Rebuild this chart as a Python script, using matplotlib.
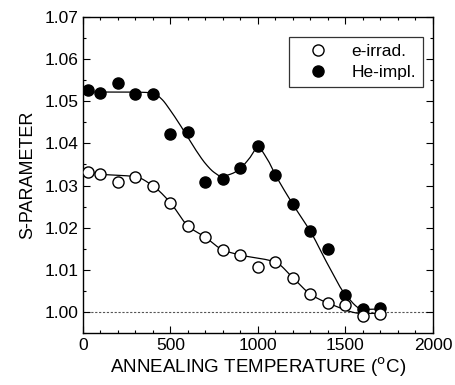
import numpy as np
import matplotlib
matplotlib.use("Agg")
import matplotlib.pyplot as plt
from matplotlib.ticker import MultipleLocator

plt.rcParams['font.family'] = ['Liberation Sans', 'DejaVu Sans']

# Measured points
temp = [30, 100, 200, 300, 400, 500, 600, 700, 800, 900, 1000, 1100, 1200, 1300, 1400, 1500, 1600, 1700]
s_e_irrad = [1.0332, 1.0327, 1.0308, 1.0321, 1.0299, 1.0259, 1.0204, 1.0177, 1.0147, 1.0135,
             1.0107, 1.0118, 1.0081, 1.0042, 1.0021, 1.0017, 0.9991, 0.9996]
s_he_impl = [1.0526, 1.0520, 1.0543, 1.0517, 1.0517, 1.0423, 1.0428, 1.0309, 1.0316, 1.0341,
             1.0393, 1.0325, 1.0255, 1.0191, 1.0149, 1.0041, 1.0007, 1.0009]

# Guide-to-the-eye curve nodes
he_guide_x = [30, 250, 400, 450, 500, 550, 600, 650, 700, 750, 790, 850, 900, 950, 1000, 1050,
              1100, 1200, 1300, 1400, 1500, 1600, 1700]
he_guide_y = [1.0522, 1.0522, 1.0520, 1.0505, 1.0478, 1.0447, 1.0414, 1.0381, 1.0352, 1.0331,
              1.0322, 1.0328, 1.0341, 1.0364, 1.0390, 1.0365, 1.0325, 1.0255, 1.0191, 1.0112,
              1.0041, 1.0006, 1.0007]
e_guide_x = [30, 100, 300, 400, 500, 600, 700, 800, 900, 1100, 1200, 1300, 1400, 1600, 1700]
e_guide_y = [1.0332, 1.0327, 1.0321, 1.0299, 1.0259, 1.0204, 1.0177, 1.0147, 1.0135, 1.0118,
             1.0081, 1.0042, 1.0021, 0.9996, 0.9997]

x_ticks = [0, 500, 1000, 1500, 2000]
y_ticks = [1.00, 1.01, 1.02, 1.03, 1.04, 1.05, 1.06, 1.07]


def pchip(x, y, xs):
    x = np.asarray(x, float); y = np.asarray(y, float)
    h = np.diff(x); d = np.diff(y) / h
    n = len(x); m = np.zeros(n)
    for k in range(1, n - 1):
        if d[k - 1] * d[k] > 0:
            w1 = 2 * h[k] + h[k - 1]; w2 = h[k] + 2 * h[k - 1]
            m[k] = (w1 + w2) / (w1 / d[k - 1] + w2 / d[k])
    m[0] = d[0]; m[-1] = d[-1]
    idx = np.clip(np.searchsorted(x, xs) - 1, 0, n - 2)
    t = (xs - x[idx]) / h[idx]
    h00 = 2 * t**3 - 3 * t**2 + 1; h10 = t**3 - 2 * t**2 + t
    h01 = -2 * t**3 + 3 * t**2; h11 = t**3 - t**2
    return h00 * y[idx] + h10 * h[idx] * m[idx] + h01 * y[idx + 1] + h11 * h[idx] * m[idx + 1]


fig = plt.figure(figsize=(4.55, 3.85), dpi=100)
ax = fig.add_axes([0.1824, 0.1351, 0.7692, 0.8207])

ax.axhline(1.0, color='#555555', lw=0.8, ls=(0, (2, 1.5)), zorder=1)

xs = np.linspace(he_guide_x[0], he_guide_x[-1], 600)
ax.plot(xs, pchip(he_guide_x, he_guide_y, xs), color='black', lw=0.9, zorder=2)
xs2 = np.linspace(e_guide_x[0], e_guide_x[-1], 600)
ax.plot(xs2, pchip(e_guide_x, e_guide_y, xs2), color='black', lw=0.9, zorder=2)

ax.plot(temp, s_he_impl, 'o', color='black', ms=8, mec='black', zorder=3, label='He-impl.')
ax.plot(temp, s_e_irrad, 'o', mfc='white', mec='black', mew=1.0, ms=8, zorder=4, label='e-irrad.')

ax.set_xlim(0, 2000)
ax.set_ylim(0.995, 1.07)
ax.set_xticks(x_ticks)
ax.set_yticks(y_ticks)
ax.set_yticklabels([f"{v:.2f}" for v in y_ticks])
ax.xaxis.set_minor_locator(MultipleLocator(100))
ax.yaxis.set_minor_locator(MultipleLocator(0.005))
ax.tick_params(which='both', direction='in', top=True, right=True, labelsize=12.5, width=0.8)
ax.tick_params(which='major', length=5)
ax.tick_params(which='minor', length=2.5)
for sp in ax.spines.values():
    sp.set_linewidth(1.0)

ax.set_xlabel('ANNEALING TEMPERATURE ($^{\\rm o}$C)', fontsize=13.5, labelpad=2)
ax.set_ylabel('S-PARAMETER', fontsize=13, labelpad=6)

h, l = ax.get_legend_handles_labels()
leg = ax.legend(h[::-1], l[::-1], loc='upper right', bbox_to_anchor=(0.971, 0.937),
                borderaxespad=0, fontsize=12.5, frameon=True, fancybox=False, edgecolor='black',
                handletextpad=0.6, borderpad=0.4, handlelength=2.6, labelspacing=0.35)
leg.get_frame().set_linewidth(0.9)

fig.savefig('out.png', dpi=100)
